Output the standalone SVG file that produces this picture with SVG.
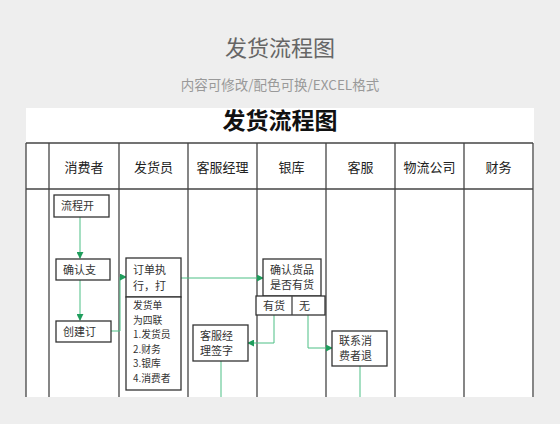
<svg xmlns="http://www.w3.org/2000/svg" width="560" height="424" viewBox="0 0 560 424">
<style>
.t{font-family:"Noto Sans CJK SC","Noto Sans",sans-serif}
.hd{font-size:13px;fill:#222;text-anchor:middle}
.grid{stroke:#444;stroke-width:1.3;fill:none}
.box{fill:#fff;stroke:#333;stroke-width:1.3}
.bt{font-size:11px;fill:#333}
.sm{font-size:9.8px}
.cn{stroke:#4cbf85;stroke-width:1;fill:none}
</style>
<defs>
<marker id="ah" viewBox="0 0 8 8" refX="7" refY="4" markerWidth="7" markerHeight="7" orient="auto" markerUnits="userSpaceOnUse">
<path d="M0,0 L8,4 L0,8 z" fill="#1f9d5c"/>
</marker>
</defs>
<rect x="0" y="0" width="560" height="424" fill="#eeeeee"/>
<text class="t" x="280" y="56" font-size="22" fill="#666" text-anchor="middle">发货流程图</text>
<text class="t" x="280" y="90" font-size="13.5" fill="#999" text-anchor="middle">内容可修改/配色可换/EXCEL格式</text>
<rect x="26" y="108" width="508" height="289" fill="#fff"/>
<text class="t" x="280" y="129" font-size="23" font-weight="bold" fill="#111" text-anchor="middle">发货流程图</text>
<g id="grid">
<line class="grid" x1="26" y1="143" x2="533" y2="143"/>
<line class="grid" x1="26" y1="189" x2="533" y2="189"/>
<line class="grid" x1="26" y1="143" x2="26" y2="397"/>
<line class="grid" x1="49" y1="143" x2="49" y2="397"/>
<line class="grid" x1="119" y1="143" x2="119" y2="397"/>
<line class="grid" x1="188" y1="143" x2="188" y2="397"/>
<line class="grid" x1="257" y1="143" x2="257" y2="397"/>
<line class="grid" x1="326" y1="143" x2="326" y2="397"/>
<line class="grid" x1="395" y1="143" x2="395" y2="397"/>
<line class="grid" x1="464" y1="143" x2="464" y2="397"/>
<line class="grid" x1="533" y1="143" x2="533" y2="397"/>
</g>
<g id="headers" class="t hd">
<text x="84" y="172">消费者</text>
<text x="153.5" y="172">发货员</text>
<text x="222.5" y="172">客服经理</text>
<text x="291.5" y="172">银库</text>
<text x="360.5" y="172">客服</text>
<text x="429.5" y="172">物流公司</text>
<text x="498.5" y="172">财务</text>
</g>
<g id="connectors">
<line class="cn" x1="80" y1="217" x2="80" y2="258" marker-end="url(#ah)"/>
<line class="cn" x1="80" y1="280" x2="80" y2="320" marker-end="url(#ah)"/>
<polyline class="cn" points="111,331 120,331 120,277 126,277" marker-end="url(#ah)"/>
<line class="cn" x1="181" y1="278" x2="263" y2="278" marker-end="url(#ah)"/>
<polyline class="cn" points="274,315 274,343 248,343" marker-end="url(#ah)"/>
<polyline class="cn" points="308,315 308,348 332,348" marker-end="url(#ah)"/>
<line class="cn" x1="221" y1="361" x2="221" y2="397"/>
<line class="cn" x1="360" y1="366" x2="360" y2="397"/>
</g>
<g id="n-start">
<rect class="box" x="54" y="195" width="55" height="22"/>
<text class="t bt" x="61" y="210">流程开</text>
</g>
<g id="n-confirm">
<rect class="box" x="56" y="259" width="54" height="21"/>
<text class="t bt" x="63" y="274">确认支</text>
</g>
<g id="n-create">
<rect class="box" x="56" y="321" width="55" height="21"/>
<text class="t bt" x="63" y="336">创建订</text>
</g>
<g id="n-order">
<rect class="box" x="126" y="258" width="55" height="39"/>
<text class="t bt" x="133" y="274">订单执</text>
<text class="t bt" x="133" y="290">行，打</text>
</g>
<g id="n-invoice">
<rect class="box" x="126" y="297" width="55" height="93"/>
<text class="t bt sm" x="133" y="309">发货单</text>
<text class="t bt sm" x="133" y="323.5">为四联</text>
<text class="t bt sm" x="133" y="338">1.发货员</text>
<text class="t bt sm" x="133" y="352.5">2.财务</text>
<text class="t bt sm" x="133" y="367">3.银库</text>
<text class="t bt sm" x="133" y="381.5">4.消费者</text>
</g>
<g id="n-check">
<rect class="box" x="263" y="259" width="58" height="37"/>
<text class="t bt" x="270" y="274">确认货品</text>
<text class="t bt" x="270" y="289">是否有货</text>
</g>
<g id="n-yesno">
<rect class="box" x="256" y="296" width="69" height="19"/>
<line class="grid" x1="292" y1="296" x2="292" y2="315"/>
<text class="t bt" x="274" y="310" text-anchor="middle">有货</text>
<text class="t bt" x="299" y="310">无</text>
</g>
<g id="n-manager">
<rect class="box" x="193" y="325" width="55" height="36"/>
<text class="t bt" x="200" y="340">客服经</text>
<text class="t bt" x="200" y="355">理签字</text>
</g>
<g id="n-contact">
<rect class="box" x="332" y="331" width="55" height="35"/>
<text class="t bt" x="339" y="344.5">联系消</text>
<text class="t bt" x="339" y="360">费者退</text>
</g>
</svg>
